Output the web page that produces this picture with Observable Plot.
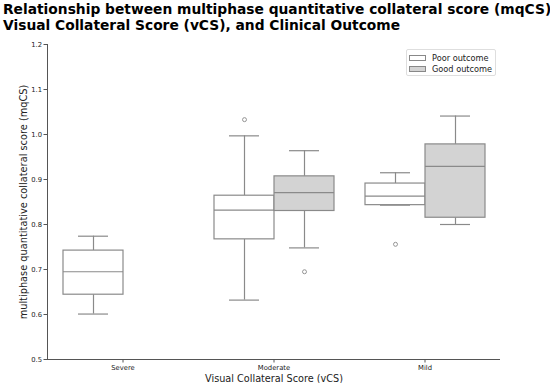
<!DOCTYPE html>
<html>
<head>
<meta charset="utf-8">
<script src="https://cdn.jsdelivr.net/npm/d3@7"></script>
<script src="https://cdn.jsdelivr.net/npm/@observablehq/plot@0.6"></script>
<style>
  body { margin: 0; background: #fff; font-family: "DejaVu Sans", sans-serif; }
  #wrap { position: relative; width: 550px; height: 383px; overflow: hidden; }
  #title { height: 38px; padding-left: 3px; font-weight: bold; font-size: 13.8px; line-height: 16px; padding-top: 1px; box-sizing: border-box; color: #000; white-space: nowrap; }
  #legend { position: absolute; left: 406px; top: 49px; width: 90px; height: 27px; box-sizing: border-box; border: 1px solid #dedede; border-radius: 2px; background: rgba(255,255,255,0.8); font-size: 8.2px; color: #222; padding: 2px 0 0 2px; }
  .row { display: flex; align-items: center; height: 11.5px; }
  .sw { width: 17px; height: 6px; box-sizing: border-box; border: 1px solid #888; margin-right: 6px; }
</style>
</head>
<body>
<div id="wrap">
  <div id="title">Relationship between multiphase quantitative collateral score (mqCS)<br>Visual Collateral Score (vCS), and Clinical Outcome</div>
  <div id="chart"></div>
  <div id="legend"></div>
</div>
<script>
const categories = ["Severe", "Moderate", "Mild"];
const outcomes = ["Poor outcome", "Good outcome"];
const outcomeFill = ["#ffffff", "#d3d3d3"];
const yTicks = [0.5, 0.6, 0.7, 0.8, 0.9, 1.0, 1.1, 1.2];

const boxCategory = ["Severe", "Moderate", "Moderate", "Mild", "Mild"];
const boxOutcome = ["Poor outcome", "Poor outcome", "Good outcome", "Poor outcome", "Good outcome"];
const whiskerLow = [0.601, 0.632, 0.748, 0.843, 0.800];
const q1 = [0.644, 0.767, 0.830, 0.843, 0.815];
const median = [0.695, 0.832, 0.871, 0.863, 0.929];
const q3 = [0.742, 0.864, 0.907, 0.891, 0.978];
const whiskerHigh = [0.774, 0.997, 0.964, 0.915, 1.041];

const outlierCategory = ["Moderate", "Moderate", "Mild"];
const outlierOutcome = ["Poor outcome", "Good outcome", "Poor outcome"];
const outlierValue = [1.033, 0.695, 0.756];

const boxes = boxCategory.map((c, i) => ({
  vcs: c, outcome: boxOutcome[i], lo: whiskerLow[i], q1: q1[i], med: median[i], q3: q3[i], hi: whiskerHigh[i]
}));
const outliers = outlierCategory.map((c, i) => ({ vcs: c, outcome: outlierOutcome[i], v: outlierValue[i] }));

const lineColor = "#8a8a8a";
const chart = Plot.plot({
  width: 550,
  height: 345,
  marginTop: 6,
  marginBottom: 24,
  marginLeft: 46,
  marginRight: 50,
  style: { fontFamily: "DejaVu Sans, sans-serif", color: "#222", background: "transparent" },
  fx: { domain: categories, padding: 0, label: null },
  x: { domain: outcomes, paddingInner: 0, paddingOuter: 0.25, axis: null },
  y: { domain: [0.5, 1.2] },
  color: { domain: outcomes, range: outcomeFill },
  marks: [
    Plot.ruleY([0.5], { stroke: "#555", strokeWidth: 1 }),
    Plot.frame({ anchor: "left", facetAnchor: "left", stroke: "#555" }),
    Plot.axisY({ ticks: yTicks, tickFormat: d3.format(".1f"), tickSize: 3.5, tickPadding: 2, fontSize: 6.8, label: null, stroke: "#555" }),
    Plot.axisY({ ticks: [], label: "multiphase quantitative collateral score (mqCS)", labelArrow: "none", labelAnchor: "center", labelOffset: 27, fontSize: 9.8, tickSize: 0 }),
    Plot.axisFx({ anchor: "bottom", tickSize: 3.5, tickPadding: 2, fontSize: 6.8, label: null, stroke: "#555" }),
    Plot.axisFx({ anchor: "bottom", ticks: [], label: "Visual Collateral Score (vCS)", labelArrow: "none", labelAnchor: "center", labelOffset: 22, fontSize: 9.7, tickSize: 0 }),
    Plot.ruleX(boxes, { fx: "vcs", x: "outcome", y1: "lo", y2: "q1", stroke: lineColor, strokeWidth: 1.2 }),
    Plot.ruleX(boxes, { fx: "vcs", x: "outcome", y1: "q3", y2: "hi", stroke: lineColor, strokeWidth: 1.2 }),
    Plot.tickY(boxes, { fx: "vcs", x: "outcome", y: "lo", stroke: lineColor, strokeWidth: 1.2, insetLeft: 15, insetRight: 15 }),
    Plot.tickY(boxes, { fx: "vcs", x: "outcome", y: "hi", stroke: lineColor, strokeWidth: 1.2, insetLeft: 15, insetRight: 15 }),
    Plot.barY(boxes, { fx: "vcs", x: "outcome", y1: "q1", y2: "q3", fill: "outcome", stroke: lineColor, strokeWidth: 1.2 }),
    Plot.tickY(boxes, { fx: "vcs", x: "outcome", y: "med", stroke: lineColor, strokeWidth: 1.2 }),
    Plot.dot(outliers, { fx: "vcs", x: "outcome", y: "v", r: 2, stroke: lineColor, strokeWidth: 0.9, fill: "none" })
  ]
});
document.getElementById("chart").appendChild(chart);

const legend = document.getElementById("legend");
outcomes.forEach((o, i) => {
  const row = document.createElement("div");
  row.className = "row";
  const sw = document.createElement("span");
  sw.className = "sw";
  sw.style.background = outcomeFill[i];
  row.appendChild(sw);
  row.appendChild(document.createTextNode(o));
  legend.appendChild(row);
});
</script>
</body>
</html>
